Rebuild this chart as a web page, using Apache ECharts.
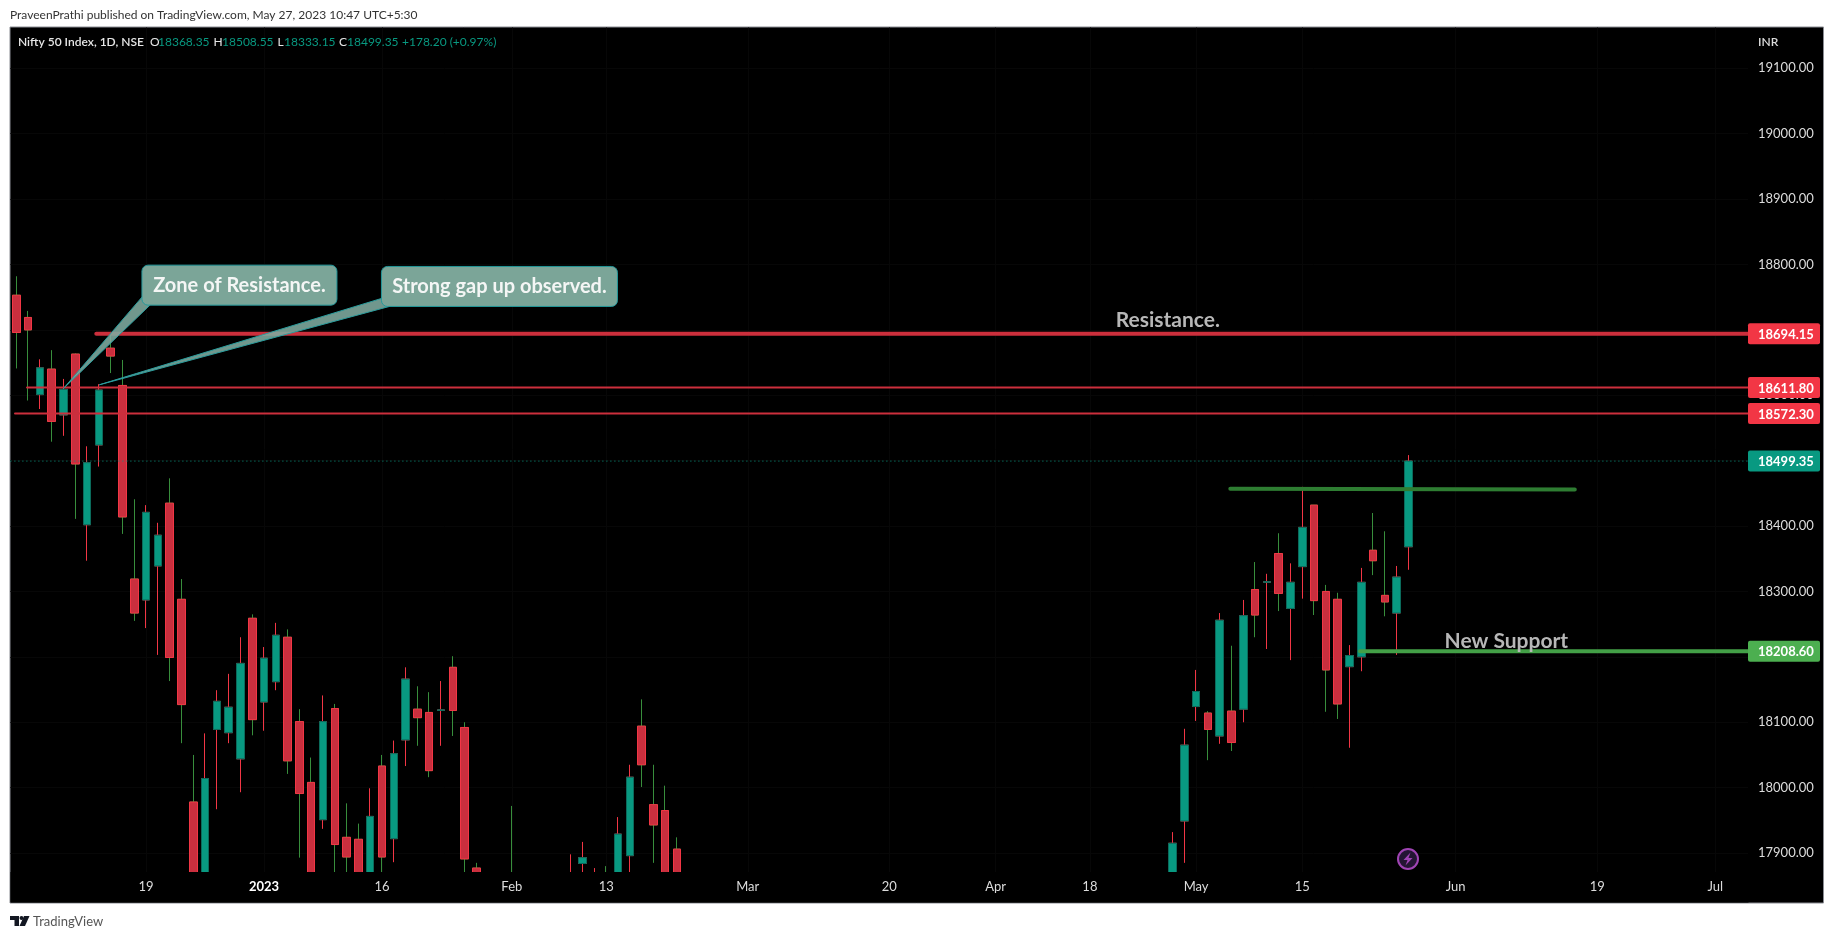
<!DOCTYPE html>
<html>
<head>
    <meta charset="utf-8">
    <title>Nifty 50 Index</title>
    <script src="https://cdn.jsdelivr.net/npm/echarts@6/dist/echarts.min.js"></script>
    <style>
        html, body { margin: 0; width: 100%; height: 100%; background: #fff; }
        #container { width: 1834px; height: 939px; }
    </style>
</head>
<body>
    <div id="container"></div>
    <script type="text/javascript">
    // candles (bar number on the time scale, then OHLC)
    // parts under 17871 are off the visible pane, so those values are only rough
    var barIndex = [0, 1, 2, 3, 4, 5, 6, 7, 8, 9, 10, 11, 12, 13, 14, 15, 16, 17, 18, 19,
        20, 21, 22, 23, 24, 25, 26, 27, 28, 29, 30, 31, 32, 33, 34, 35, 36, 37, 38, 39,
        42, 47, 48, 49, 50, 51, 52, 53, 54, 55, 56,
        98, 99, 100, 101, 102, 103, 104, 105, 106, 107, 108, 109, 110, 111, 112, 113, 114, 115, 116, 117, 118];
    var opens = [18753, 18719, 18601, 18640, 18570, 18663, 18402, 18524, 18672, 18615, 18319, 18287, 18339, 18435, 18288, 17978, 17840, 18089, 18084, 18044,
        18259, 18131, 18162, 18230, 18101, 18008, 17951, 18121, 17924, 17921, 17840, 18033, 17922, 18073, 18120, 18115, 18118, 18184, 18092, 17877,
        17860, 17840, 17884, 17840, 17860, 17840, 17896, 18094, 17974, 17965, 17906,
        17840, 17949, 18124, 18114, 18079, 18117, 18120, 18303, 18314, 18358, 18274, 18338, 18432, 18300, 18288, 18185, 18200, 18363, 18294, 18267, 18368.35];
    var closes = [18696, 18700, 18642, 18560, 18609, 18495, 18497, 18608, 18660, 18414, 18267, 18421, 18386, 18199, 18127, 17840, 18014, 18132, 18123, 18190,
        18104, 18198, 18233, 18041, 17991, 17850, 18101, 17913, 17894, 17840, 17956, 17894, 18052, 18166, 18107, 18026, 18119, 18118, 17891, 17840,
        17840, 17860, 17893, 17860, 17840, 17929, 18016, 18035, 17943, 17850, 17850,
        17915, 18065, 18147, 18089, 18256, 18069, 18263, 18264, 18315, 18297, 18314, 18398, 18286, 18180, 18128, 18202, 18314, 18347, 18284, 18322, 18499.35];
    var lows = [18641, 18592, 18579, 18529, 18538, 18411, 18347, 18491, 18634, 18388, 18255, 18244, 18203, 18163, 18068, 17830, 17830, 17967, 18068, 17993,
        18080, 18087, 18149, 18021, 17893, 17830, 17937, 17850, 17860, 17830, 17830, 17860, 17886, 18033, 18064, 18016, 18064, 18079, 17860, 17830,
        17830, 17830, 17850, 17830, 17830, 17830, 17860, 18001, 17885, 17830, 17830,
        17830, 17885, 18102, 18042, 18067, 18056, 18100, 18230, 18212, 18270, 18195, 18289, 18264, 18116, 18105, 18061, 18178, 18325, 18262, 18203, 18333.15];
    var highs = [18782, 18729, 18655, 18669, 18625, 18664, 18522, 18617, 18697, 18654, 18441, 18432, 18405, 18473, 18319, 18050, 18083, 18149, 18174, 18230,
        18265, 18215, 18252, 18242, 18120, 18046, 18141, 18128, 17976, 17945, 17999, 18050, 18072, 18184, 18155, 18146, 18163, 18201, 18100, 17885,
        17972, 17898, 17917, 17877, 17880, 17955, 18035, 18135, 18035, 18003, 17924,
        17932, 18090, 18180, 18117, 18267, 18217, 18287, 18345, 18327, 18389, 18343, 18460, 18432, 18310, 18298, 18218, 18336, 18420, 18392, 18339, 18508.55];

    // axes
    var priceTicks = [17900, 18000, 18100, 18200, 18300, 18400, 18500, 18600, 18700, 18800, 18900, 19000, 19100];
    var timeTickBars = [11, 21, 31, 42, 50, 62, 74, 83, 91, 100, 109, 122, 134, 144];
    var timeTickLabels = ['19', '2023', '16', 'Feb', '13', 'Mar', '20', 'Apr', '18', 'May', '15', 'Jun', '19', 'Jul'];
    var priceMin = 17871, priceMax = 19162.4;
    var barMin = -0.5, barMax = 146.78;

    // drawn levels: first bar, last bar
    var resistance = [[6.78, 18694.15], [barMax, 18694.15]];
    var zoneUpper = [[0.91, 18611.80], [barMax, 18611.80]];
    var zoneLower = [[-0.11, 18572.30], [barMax, 18572.30]];
    var breakout = [[102.9, 18457], [132.1, 18456]];
    var newSupport = [[113.9, 18208.60], [barMax, 18208.60]];
    var lastPrice = [[barMin, 18499.35], [barMax, 18499.35]];

    // price tags on the right scale
    var tagPrices = [18694.15, 18611.80, 18572.30, 18499.35, 18208.60];
    var tagColors = ['#f23645', '#f23645', '#f23645', '#089981', '#4caf50'];

    // callouts: box corner and tip, both on chart scales
    var calloutTexts = ['Zone of Resistance.', 'Strong gap up observed.'];
    var calloutCorners = [[10.65, 18799], [30.95, 18797]];
    var calloutTips = [[3.98, 18610], [7.03, 18616]];
    var calloutSizes = [[195, 40], [236, 40]];

    var noteTexts = ['Resistance.', 'New Support'];
    var notePoints = [[97.6, 18714], [126.3, 18224]];

    var FONT = 'Lato, "Noto Sans", sans-serif';

    var wickData = [], bodyData = [];
    for (var i = 0; i < barIndex.length; i++) {
        wickData.push([barIndex[i], opens[i], closes[i], lows[i], highs[i]]);
        bodyData.push([barIndex[i], opens[i], closes[i], Math.min(opens[i], closes[i]), Math.max(opens[i], closes[i])]);
    }

    function levelSeries(data, color, width, extra) {
        return {
            type: 'line', data: data, symbol: 'none', silent: true, z: 4,
            lineStyle: Object.assign({ color: color, width: width, cap: 'round' }, extra || {})
        };
    }

    function renderCallout(params, api) {
        var k = params.dataIndex;
        var corner = api.coord(calloutCorners[k]);
        var tip = api.coord(calloutTips[k]);
        var w = calloutSizes[k][0], h = calloutSizes[k][1];
        return {
            type: 'group',
            children: [{
                type: 'polygon',
                shape: { points: [[corner[0], corner[1] + h - 8], tip, [corner[0] + 8, corner[1] + h]] },
                style: { fill: 'rgba(128,172,160,0.88)', stroke: '#2a9d9d', lineWidth: 1 }
            }, {
                type: 'rect',
                shape: { x: corner[0], y: corner[1], width: w, height: h, r: 6 },
                style: { fill: '#7ba598', stroke: '#23989b', lineWidth: 1 }
            }, {
                type: 'text',
                style: {
                    x: corner[0] + w / 2, y: corner[1] + h / 2, text: calloutTexts[k],
                    align: 'center', verticalAlign: 'middle',
                    fill: '#f4f6f5', font: '700 20px ' + FONT
                }
            }]
        };
    }

    function renderNote(params, api) {
        var p = api.coord(notePoints[params.dataIndex]);
        return {
            type: 'text',
            style: {
                x: p[0], y: p[1], text: noteTexts[params.dataIndex],
                align: 'center', verticalAlign: 'middle',
                fill: '#b7b7b7', font: '700 21px ' + FONT
            }
        };
    }

    function renderTag(params, api) {
        var k = params.dataIndex;
        var p = api.coord([barMax, tagPrices[k]]);
        return {
            type: 'group',
            children: [{
                type: 'rect',
                shape: { x: p[0], y: p[1] - 10.5, width: 72, height: 21, r: 2 },
                style: { fill: tagColors[k] }
            }, {
                type: 'text',
                style: {
                    x: p[0] + 10, y: p[1] + 1, text: tagPrices[k].toFixed(2),
                    align: 'left', verticalAlign: 'middle',
                    fill: '#fff', font: '700 13px ' + FONT
                }
            }]
        };
    }

    function textEl(x, y, text, color, size, weight) {
        return {
            type: 'text', x: x, y: y, z: 6,
            style: {
                text: text, fill: color, verticalAlign: 'middle', align: 'left',
                font: (weight || 400) + ' ' + size + 'px ' + FONT
            }
        };
    }

    var myChart = echarts.init(document.getElementById('container'));

    var option = {
        animation: false,
        backgroundColor: '#fff',
        grid: { left: 10.4, right: 86, top: 27.5, bottom: 67, containLabel: false },
        xAxis: [
            {
                type: 'value', min: barMin, max: barMax,
                axisLine: { show: false },
                axisTick: { show: false, customValues: timeTickBars },
                splitLine: { show: true, lineStyle: { color: '#070707', width: 1 } },
                axisLabel: { show: false }
            },
            // labels only, kept above the strip that masks the candles
            {
                type: 'value', min: barMin, max: barMax, z: 10, position: 'bottom',
                axisLine: { show: false },
                axisTick: { show: false, customValues: timeTickBars },
                splitLine: { show: false },
                axisLabel: {
                    customValues: timeTickBars, margin: 8, color: '#dcdcdc', fontFamily: FONT, fontSize: 13,
                    formatter: function (v) {
                        var label = timeTickLabels[timeTickBars.indexOf(v)];
                        return label === '2023' ? '{b|2023}' : label;
                    },
                    rich: { b: { fontWeight: 700, fontSize: 13, color: '#fff', fontFamily: FONT } }
                }
            }
        ],
        yAxis: {
            type: 'value', position: 'right', min: priceMin, max: priceMax,
            axisLine: { show: false },
            axisTick: { show: false, customValues: priceTicks },
            splitLine: { show: true, lineStyle: { color: '#070707', width: 1 } },
            axisLabel: {
                customValues: priceTicks, margin: 10, color: '#dcdcdc', fontFamily: FONT, fontSize: 13,
                formatter: function (v) { return v.toFixed(2); }
            }
        },
        graphic: [
            {
                type: 'rect', z: -1,
                shape: { x: 10, y: 27, width: 1813.5, height: 876 },
                style: { fill: '#000', stroke: '#8a8c93', lineWidth: 1 }
            },
            // candlestick clip only drops whole boxes, so the time scale strip masks what hangs below the pane
            {
                type: 'rect', z: 5,
                shape: { x: 10.5, y: 872, width: 1738, height: 30.5 },
                style: { fill: '#000' }
            },
            textEl(10, 15, 'PraveenPrathi published on TradingView.com, May 27, 2023 10:47 UTC+5:30', '#333', 12),
            textEl(18, 42, 'Nifty 50 Index, 1D, NSE', '#e6e6e6', 12, 600),
            textEl(150, 42, 'O', '#e6e6e6', 12),
            textEl(158, 42, '18368.35', '#089981', 12),
            textEl(213.5, 42, 'H', '#e6e6e6', 12),
            textEl(222, 42, '18508.55', '#089981', 12),
            textEl(277.5, 42, 'L', '#e6e6e6', 12),
            textEl(284, 42, '18333.15', '#089981', 12),
            textEl(339, 42, 'C', '#e6e6e6', 12),
            textEl(347, 42, '18499.35', '#089981', 12),
            textEl(402, 42, '+178.20 (+0.97%)', '#089981', 12),
            textEl(1758, 42, 'INR', '#dcdcdc', 12, 600),
            // alert badge
            {
                type: 'circle', z: 6, shape: { cx: 1408, cy: 859, r: 10 },
                style: { fill: '#241533', stroke: '#a044b4', lineWidth: 2 }
            },
            {
                type: 'polygon', z: 7,
                shape: { points: [[1410.5, 852.5], [1403.5, 860], [1407.5, 860], [1405.5, 865.5], [1412.5, 858], [1408.5, 858]] },
                style: { fill: '#a044b4' }
            },
            // footer logo
            {
                type: 'polygon', z: 6,
                shape: { points: [[10, 916], [19, 916], [19, 926], [14.5, 926], [14.5, 920], [10, 920]] },
                style: { fill: '#131722' }
            },
            { type: 'circle', z: 6, shape: { cx: 21.5, cy: 918, r: 2 }, style: { fill: '#131722' } },
            {
                type: 'polygon', z: 6,
                shape: { points: [[24, 916], [29.5, 916], [25, 926], [19.5, 926]] },
                style: { fill: '#131722' }
            },
            textEl(33, 922, 'TradingView', '#555', 13)
        ],
        series: [
            {
                name: 'wicks', type: 'candlestick', data: wickData, barWidth: 8, z: 2, silent: true,
                encode: { x: 0, y: [1, 2, 3, 4] },
                itemStyle: {
                    color: 'transparent', color0: 'transparent',
                    borderColor: '#f23645', borderColor0: '#388e3c', borderWidth: 1
                }
            },
            {
                name: 'bodies', type: 'candlestick', data: bodyData, barWidth: 8, z: 3, silent: true,
                encode: { x: 0, y: [1, 2, 3, 4] },
                itemStyle: {
                    color: '#089981', color0: '#c92f3e',
                    borderColor: '#0b6b5c', borderColor0: '#f23645', borderWidth: 1
                }
            },
            levelSeries(resistance, '#cc2f3c', 4),
            levelSeries(zoneUpper, '#cc2f3c', 2),
            levelSeries(zoneLower, '#cc2f3c', 2),
            levelSeries(breakout, '#2e7d32', 4),
            levelSeries(newSupport, '#43a047', 4),
            levelSeries(lastPrice, '#089981', 1, { type: [1, 3], cap: 'butt' }),
            {
                type: 'custom', z: 6, silent: true, data: calloutCorners,
                encode: { x: 0, y: 1 }, renderItem: renderCallout
            },
            {
                type: 'custom', z: 5, silent: true, data: notePoints,
                encode: { x: 0, y: 1 }, renderItem: renderNote
            },
            {
                type: 'custom', z: 7, silent: true, clip: false,
                data: tagPrices.map(function (p) { return [barMax, p]; }),
                encode: { x: 0, y: 1 }, renderItem: renderTag
            }
        ]
    };

    myChart.setOption(option);
    </script>
</body>
</html>
